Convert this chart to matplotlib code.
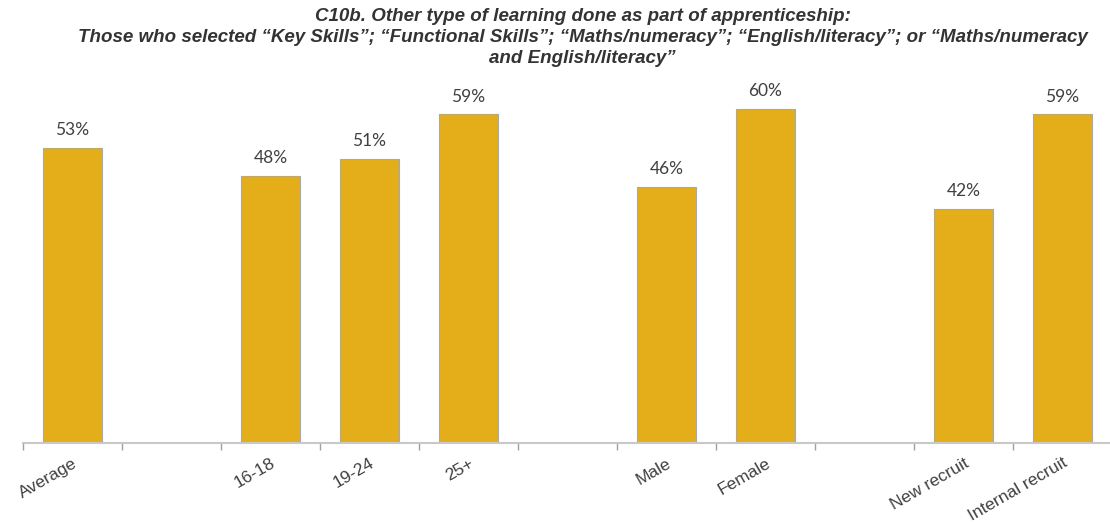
import numpy as np
import matplotlib.pyplot as plt
from matplotlib.ticker import FixedLocator

# categories on the x axis, blank entries are spacer slots between groups
categories = ['Average', '', '16-18', '19-24', '25+', '', 'Male', 'Female', '', 'New recruit', 'Internal recruit']
values = [0.53, None, 0.48, 0.51, 0.59, None, 0.46, 0.60, None, 0.42, 0.59]

title = ('C10b. Other type of learning done as part of apprenticeship:\n'
         'Those who selected \u201cKey Skills\u201d; \u201cFunctional Skills\u201d; \u201cMaths/numeracy\u201d; '
         '\u201cEnglish/literacy\u201d; or \u201cMaths/numeracy\n'
         'and English/literacy\u201d')

bar_color = '#E3AE19'
text_color = '#404040'
axis_color = '#C8C8C8'

fig = plt.figure(figsize=(11.1, 5.23), dpi=100)
ax = fig.add_axes([0.0207, 0.153, 0.9811, 0.692])

x = np.arange(len(categories))
for xi, v in zip(x, values):
    if v is None:
        continue
    ax.bar(xi, v, width=0.6, color=bar_color, edgecolor='#A8A8A8', linewidth=0.8)
    ax.annotate('{:.0f}%'.format(v * 100), (xi, v), xytext=(0, 7), textcoords='offset points',
                ha='center', va='bottom', fontsize=12.5, color=text_color, family='Lato')

ax.set_xlim(-0.5, len(categories) - 0.5)
ax.set_ylim(0, 0.65)

for side in ['left', 'right', 'top']:
    ax.spines[side].set_visible(False)
ax.spines['bottom'].set_color(axis_color)
ax.spines['bottom'].set_linewidth(1.5)
ax.set_yticks([])

# category labels at bar centres, tick marks at slot boundaries
ax.set_xticks(x)
ax.set_xticklabels(categories, rotation=30, ha='right', rotation_mode='anchor',
                   fontsize=12.5, color=text_color, family='Liberation Sans')
ax.tick_params(axis='x', which='major', length=0, pad=9)
ax.xaxis.set_minor_locator(FixedLocator(np.arange(-0.5, len(categories), 1.0)))
ax.tick_params(axis='x', which='minor', length=5, width=1, color='#A0A0A0', direction='out')

fig.text(0.525, 0.985, title, ha='center', va='top', fontsize=13.5, fontweight='bold',
         fontstyle='italic', color='#333333', linespacing=1.3,
         family=['Liberation Sans Narrow', 'Liberation Sans'])

fig.savefig('out.png', dpi=100)
